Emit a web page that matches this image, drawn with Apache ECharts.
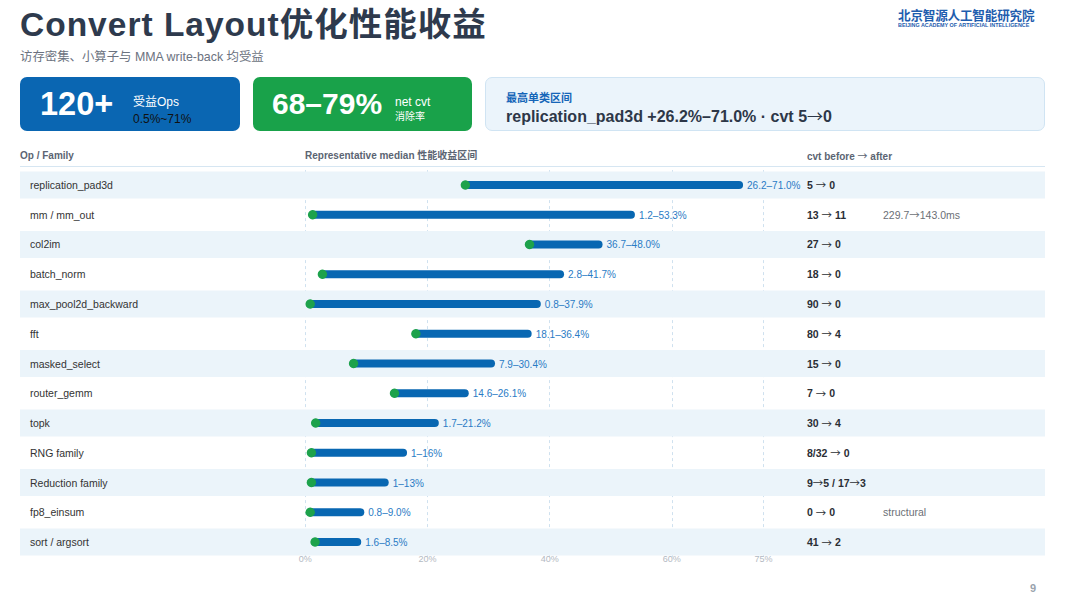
<!DOCTYPE html>
<html>
<head>
<meta charset="utf-8">
<script src="https://cdn.jsdelivr.net/npm/echarts@6/dist/echarts.min.js"></script>
<style>
  html, body { margin:0; padding:0; width:1080px; height:598px; overflow:hidden; background:#fff; }
  body { font-family: "Liberation Sans", "Noto Sans CJK SC", sans-serif; position:relative; }
  #chart { position:absolute; left:0; top:0; width:1080px; height:598px; }
  .abs { position:absolute; white-space:nowrap; z-index:5; }
  .title { left:20px; top:5px; font-size:33.5px; line-height:40px; font-weight:bold; color:#2E3A4D; letter-spacing:1px; }
  .sub { left:20px; top:49px; font-size:12.4px; line-height:16px; color:#6B7280; }
  .card { position:absolute; top:77px; height:54px; border-radius:7px; z-index:4; box-sizing:border-box; }
  .big { font-weight:bold; color:#fff; line-height:34px; }
  .hdr { font-size:10px; line-height:12px; font-weight:bold; color:#5B6472; top:150px; }
  .arr { font-family: "Noto Sans CJK SC", sans-serif; font-weight:normal; }
  .logo1 { left:898px; top:8px; font-size:12.6px; line-height:16px; font-weight:bold; color:#1E5DAE; letter-spacing:-0.2px; }
  .logo2 { left:898px; top:22px; font-size:10.8px; line-height:10px; font-weight:bold; color:#1E5DAE; transform:scale(0.5,0.5); transform-origin:0 0; }
</style>
</head>
<body>
<div id="chart"></div>

<div class="abs title">Convert Layout优化性能收益</div>
<div class="abs sub">访存密集、小算子与 MMA write-back 均受益</div>
<div class="abs logo1">北京智源人工智能研究院</div>
<div class="abs logo2">BEIJING ACADEMY OF ARTIFICIAL INTELLIGENCE</div>

<div class="card" style="left:20px;width:220px;background:#0A66B2;"></div>
<div class="abs big" style="left:40px;top:87px;font-size:32.5px;">120+</div>
<div class="abs" style="left:133px;top:95px;font-size:12px;line-height:14px;color:#fff;">受益Ops</div>
<div class="abs" style="left:133px;top:112px;font-size:12px;line-height:14px;color:#111;">0.5%~71%</div>

<div class="card" style="left:253px;width:219px;background:#19A24A;"></div>
<div class="abs big" style="left:272px;top:87px;font-size:30px;">68–79%</div>
<div class="abs" style="left:395px;top:95px;font-size:12px;line-height:14px;color:#fff;">net cvt</div>
<div class="abs" style="left:395px;top:111px;font-size:10px;line-height:12px;color:#fff;">消除率</div>

<div class="card" style="left:485px;width:560px;background:#EBF4FB;border:1px solid #D0E4F3;"></div>
<div class="abs" style="left:506px;top:91px;font-size:11px;line-height:14px;font-weight:bold;color:#1565B8;">最高单类区间</div>
<div class="abs" style="left:506px;top:105px;font-size:16px;line-height:20px;font-weight:bold;color:#2D3748;">replication_pad3d +26.2%–71.0% · cvt 5<span class="arr">→</span>0</div>

<div class="abs hdr" style="left:20px;">Op / Family</div>
<div class="abs hdr" style="left:305px;">Representative median 性能收益区间</div>
<div class="abs hdr" style="left:807px;">cvt before <span class="arr">→</span> after</div>
<div class="abs" style="left:20px;top:166px;width:1025px;height:0;border-top:1.5px solid #D6E6F2;"></div>

<div class="abs" style="left:1030px;top:581px;font-size:11px;line-height:14px;font-weight:bold;color:#9AA3AD;">9</div>

<script>
// ---- data ----
const categories = ['replication_pad3d', 'mm / mm_out', 'col2im', 'batch_norm', 'max_pool2d_backward', 'fft', 'masked_select', 'router_gemm', 'topk', 'RNG family', 'Reduction family', 'fp8_einsum', 'sort / argsort'];
const lowValues  = [26.2, 1.2, 36.7, 2.8, 0.8, 18.1, 7.9, 14.6, 1.7, 1, 1, 0.8, 1.6];
const highValues = [71.0, 53.3, 48.0, 41.7, 37.9, 36.4, 30.4, 26.1, 21.2, 16, 13, 9.0, 8.5];
const rangeLabels = ['26.2–71.0%', '1.2–53.3%', '36.7–48.0%', '2.8–41.7%', '0.8–37.9%', '18.1–36.4%', '7.9–30.4%', '14.6–26.1%', '1.7–21.2%', '1–16%', '1–13%', '0.8–9.0%', '1.6–8.5%'];
const cvtLabels = ['5 → 0', '13 → 11', '27 → 0', '18 → 0', '90 → 0', '80 → 4', '15 → 0', '7 → 0', '30 → 4', '8/32 → 0', '9→5 / 17→3', '0 → 0', '41 → 2'];
const notes = ['', '229.7→143.0ms', '', '', '', '', '', '', '', '', '', 'structural', ''];
const xTicks = [0, 20, 40, 60, 75];

// ---- chart ----
const FONT = '"Liberation Sans", "Noto Sans CJK SC", sans-serif';
const ARROW_FONT = '"Noto Sans CJK SC", sans-serif';
const chart = echarts.init(document.getElementById('chart'), null, { renderer: 'svg' });
const TOP = 170.1, BOTTOM = 41.1;

// split a text into rich segments so the arrow glyph uses a wider font
function richify(text, style, arrowStyle) {
  return text.split('→').map(s => s ? '{' + style + '|' + s + '}' : '').join('{' + arrowStyle + '|→}');
}

const plainAxis = { axisLine: { show: false }, axisTick: { show: false }, splitLine: { show: false } };

chart.setOption({
  animation: false,
  backgroundColor: '#fff',
  grid: [
    { left: 305.3, right: 316.5, top: TOP, bottom: BOTTOM },
    { left: 20, right: 35, top: TOP, bottom: BOTTOM }
  ],
  xAxis: [
    // value axis: dashed split lines (drawn beneath the row stripes)
    {
      gridIndex: 0, type: 'value', min: 0, max: 75, interval: 20, position: 'bottom', z: 0,
      axisLine: { show: false },
      axisTick: { show: false, customValues: xTicks },
      splitLine: { show: true, lineStyle: { color: '#CFE1EF', type: [3, 3], width: 1 } },
      axisLabel: { show: false }
    },
    { gridIndex: 1, type: 'value', min: 0, max: 1, show: false },
    // same value axis, tick labels only (drawn above the stripes)
    {
      gridIndex: 0, type: 'value', min: 0, max: 75, interval: 20, position: 'bottom', z: 6,
      axisLine: { show: false },
      axisTick: { show: false, customValues: xTicks },
      splitLine: { show: false },
      axisLabel: { customValues: xTicks, formatter: '{value}%', color: '#B3B9C2', fontSize: 9, fontFamily: FONT, margin: 2, verticalAlign: 'middle' }
    }
  ],
  yAxis: [
    { gridIndex: 0, type: 'category', data: categories, inverse: true, show: false },
    Object.assign({
      gridIndex: 1, type: 'category', data: categories, inverse: true, position: 'left', z: 5,
      axisLabel: { inside: true, margin: 10, color: '#333', fontSize: 10.5, fontFamily: FONT }
    }, plainAxis),
    Object.assign({
      gridIndex: 1, type: 'category', data: categories, inverse: true, position: 'left', offset: -787, z: 5,
      axisLabel: {
        inside: true, margin: 0,
        formatter: (v, i) => richify(cvtLabels[i], 'c', 'a'),
        rich: {
          c: { fontSize: 10.5, fontWeight: 'bold', color: '#2A2E35', fontFamily: FONT },
          a: { fontSize: 10.5, color: '#2A2E35', fontFamily: ARROW_FONT }
        }
      }
    }, plainAxis),
    Object.assign({
      gridIndex: 1, type: 'category', data: categories, inverse: true, position: 'left', offset: -863, z: 5,
      axisLabel: {
        inside: true, margin: 0,
        formatter: (v, i) => notes[i] ? richify(notes[i], 'n', 'na') : '',
        rich: {
          n: { fontSize: 10.5, color: '#6B6F76', fontFamily: FONT },
          na: { fontSize: 10.5, color: '#6B6F76', fontFamily: ARROW_FONT }
        }
      }
    }, plainAxis)
  ],
  series: [
    {
      type: 'bar', xAxisIndex: 1, yAxisIndex: 1, z: 1, barWidth: 27, silent: true,
      data: categories.map((c, i) => ({ value: 1, itemStyle: { color: i % 2 === 0 ? '#EBF4FA' : 'rgba(0,0,0,0)' } }))
    },
    {
      type: 'custom', xAxisIndex: 0, yAxisIndex: 0, z: 3,
      encode: { x: [0, 1], y: 2 },
      data: categories.map((c, i) => [lowValues[i], highValues[i], i]),
      renderItem: (params, api) => {
        const idx = params.dataIndex;
        const p0 = api.coord([api.value(0), api.value(2)]);
        const p1 = api.coord([api.value(1), api.value(2)]);
        return {
          type: 'group',
          children: [
            { type: 'line', shape: { x1: p0[0], y1: p0[1], x2: p1[0], y2: p1[1] },
              style: { stroke: '#0867B2', lineWidth: 8, lineCap: 'round' } },
            { type: 'circle', shape: { cx: p0[0], cy: p0[1], r: 4.7 },
              style: { fill: '#1DA24B' } },
            { type: 'text', x: p1[0] + 8, y: p1[1] + 0.5,
              style: { text: rangeLabels[idx], fill: '#2A7BC5', fontSize: 10, fontFamily: FONT,
                       align: 'left', verticalAlign: 'middle', textAlign: 'left', textVerticalAlign: 'middle' } }
          ]
        };
      }
    }
  ]
});
</script>
</body>
</html>
